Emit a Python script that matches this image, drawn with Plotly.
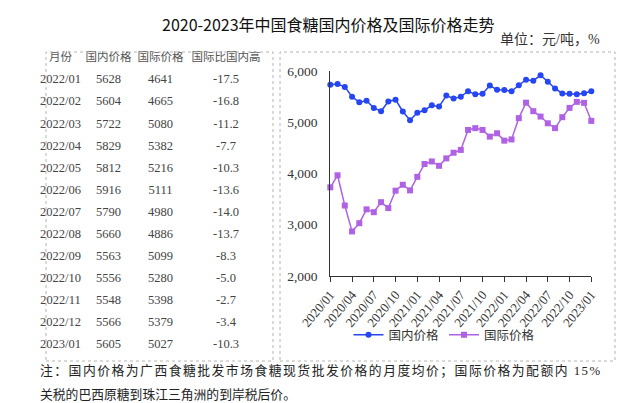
import plotly.graph_objects as go

W, H = 640, 403

months = [f"{y}/{m:02d}" for y in (2020, 2021, 2022) for m in range(1, 13)] + ["2023/01"]

dom_2020_2021 = [5730, 5745, 5690, 5500, 5390, 5420, 5280, 5215, 5405, 5440, 5210, 5040,
                 5185, 5235, 5330, 5305, 5520, 5465, 5500, 5605, 5545, 5555, 5715, 5635]
intl_2020_2021 = [3730, 3965, 3375, 2870, 3030, 3300, 3245, 3440, 3325, 3665, 3780, 3670,
                  3935, 4185, 4235, 4150, 4295, 4405, 4460, 4850, 4885, 4850, 4720, 4785]

header = ["月份", "国内价格", "国际价格", "国际比国内高"]
tbl_months = ["2022/01", "2022/02", "2022/03", "2022/04", "2022/05", "2022/06", "2022/07",
              "2022/08", "2022/09", "2022/10", "2022/11", "2022/12", "2023/01"]
tbl_dom = [5628, 5604, 5722, 5829, 5812, 5916, 5790, 5660, 5563, 5556, 5548, 5566, 5605]
tbl_intl = [4641, 4665, 5080, 5382, 5216, 5111, 4980, 4886, 5099, 5280, 5398, 5379, 5027]
tbl_diff = ["-17.5", "-16.8", "-11.2", "-7.7", "-10.3", "-13.6", "-14.0", "-13.7",
            "-8.3", "-5.0", "-2.7", "-3.4", "-10.3"]

domestic = dom_2020_2021 + tbl_dom
international = intl_2020_2021 + tbl_intl
tick_labels = months[::3]
y_ticks = [2000, 3000, 4000, 5000, 6000]

BLUE = "#2546f2"
PURPLE = "#b062e4"
CJK = "Noto Sans CJK SC"
SERIF = "Liberation Serif, Noto Sans CJK SC"


def px(x):
    return x / W


def py(y):
    return 1 - y / H


fig = go.Figure()

fig.add_trace(go.Table(
    domain=dict(x=[px(29), px(256)], y=[py(354), py(36)]),
    columnwidth=[47, 49, 55, 76],
    header=dict(values=header, height=22, align="center",
                font=dict(family=CJK, size=11.5, color="#555"),
                fill_color="rgba(0,0,0,0)", line_color="rgba(0,0,0,0)"),
    cells=dict(values=[tbl_months, tbl_dom, tbl_intl, tbl_diff], height=22.08,
               align="center", font=dict(family=SERIF, size=12.5, color="#444"),
               fill_color="rgba(0,0,0,0)", line_color="rgba(0,0,0,0)"),
))

fig.add_trace(go.Scatter(
    x=months, y=domestic, name="国内价格", mode="lines+markers",
    line=dict(color=BLUE, width=1.5), marker=dict(color=BLUE, size=6, symbol="circle"),
    cliponaxis=False,
))
fig.add_trace(go.Scatter(
    x=months, y=international, name="国际价格", mode="lines+markers",
    line=dict(color=PURPLE, width=1.5), marker=dict(color=PURPLE, size=6, symbol="square"),
    cliponaxis=False,
))

fig.update_layout(
    width=W, height=H,
    margin=dict(l=0, r=0, t=0, b=0, autoexpand=False),
    paper_bgcolor="white", plot_bgcolor="white",
    showlegend=True,
    legend=dict(orientation="h", x=px(436), xanchor="center", y=py(327), yanchor="middle",
                itemwidth=30, tracegroupgap=0,
                font=dict(family=CJK, size=12.5, color="#333"), bgcolor="rgba(0,0,0,0)"),
    xaxis=dict(type="category", domain=[px(322.3), px(583.3)], range=[0, 36],
               categoryorder="array", categoryarray=months, automargin=False,
               showline=True, linecolor="#333", linewidth=1,
               ticks="outside", ticklen=5, tickcolor="#333",
               tickvals=tick_labels, ticktext=tick_labels, tickangle=-50,
               tickfont=dict(family=SERIF, size=13, color="#333"),
               showgrid=False, zeroline=False),
    yaxis=dict(domain=[py(268), py(63)], range=[2000, 6000], automargin=False,
               tickvals=y_ticks, tickformat=",",
               showline=True, linecolor="#333", linewidth=1, ticks="",
               ticklabelstandoff=9,
               tickfont=dict(family=SERIF, size=13.5, color="#333"),
               showgrid=False, zeroline=False),
    shapes=[
        dict(type="rect", xref="paper", yref="paper", x0=px(38), x1=px(265),
             y0=py(353), y1=py(44), line=dict(color="#b4b4b4", width=1, dash="dot")),
        dict(type="rect", xref="paper", yref="paper", x0=px(272), x1=px(607),
             y0=py(353), y1=py(44), line=dict(color="#b4b4b4", width=1, dash="dot")),
    ],
    annotations=[
        dict(text="2020-2023年中国食糖国内价格及国际价格走势", x=0.5, y=py(16),
             xref="paper", yref="paper", showarrow=False, xanchor="center", yanchor="middle",
             font=dict(family=CJK, size=16, color="#111")),
        dict(text="单位：元/吨，%", x=px(594), y=py(32), xref="paper", yref="paper",
             showarrow=False, xanchor="right", yanchor="middle",
             font=dict(family=SERIF, size=14, color="#333")),
        dict(text="<span style='letter-spacing:1.5px'>注：国内价格为广西食糖批发市场食糖现货批发价格的月度均价；国际价格为配额内 15%</span>",
             x=px(30), y=py(363), xref="paper", yref="paper", showarrow=False,
             xanchor="left", yanchor="middle", font=dict(family=SERIF, size=12.8, color="#222")),
        dict(text="关税的巴西原糖到珠江三角洲的到岸税后价。",
             x=px(30), y=py(386), xref="paper", yref="paper", showarrow=False,
             xanchor="left", yanchor="middle", font=dict(family=SERIF, size=12.8, color="#222")),
    ],
)

fig.write_html("out.html")
